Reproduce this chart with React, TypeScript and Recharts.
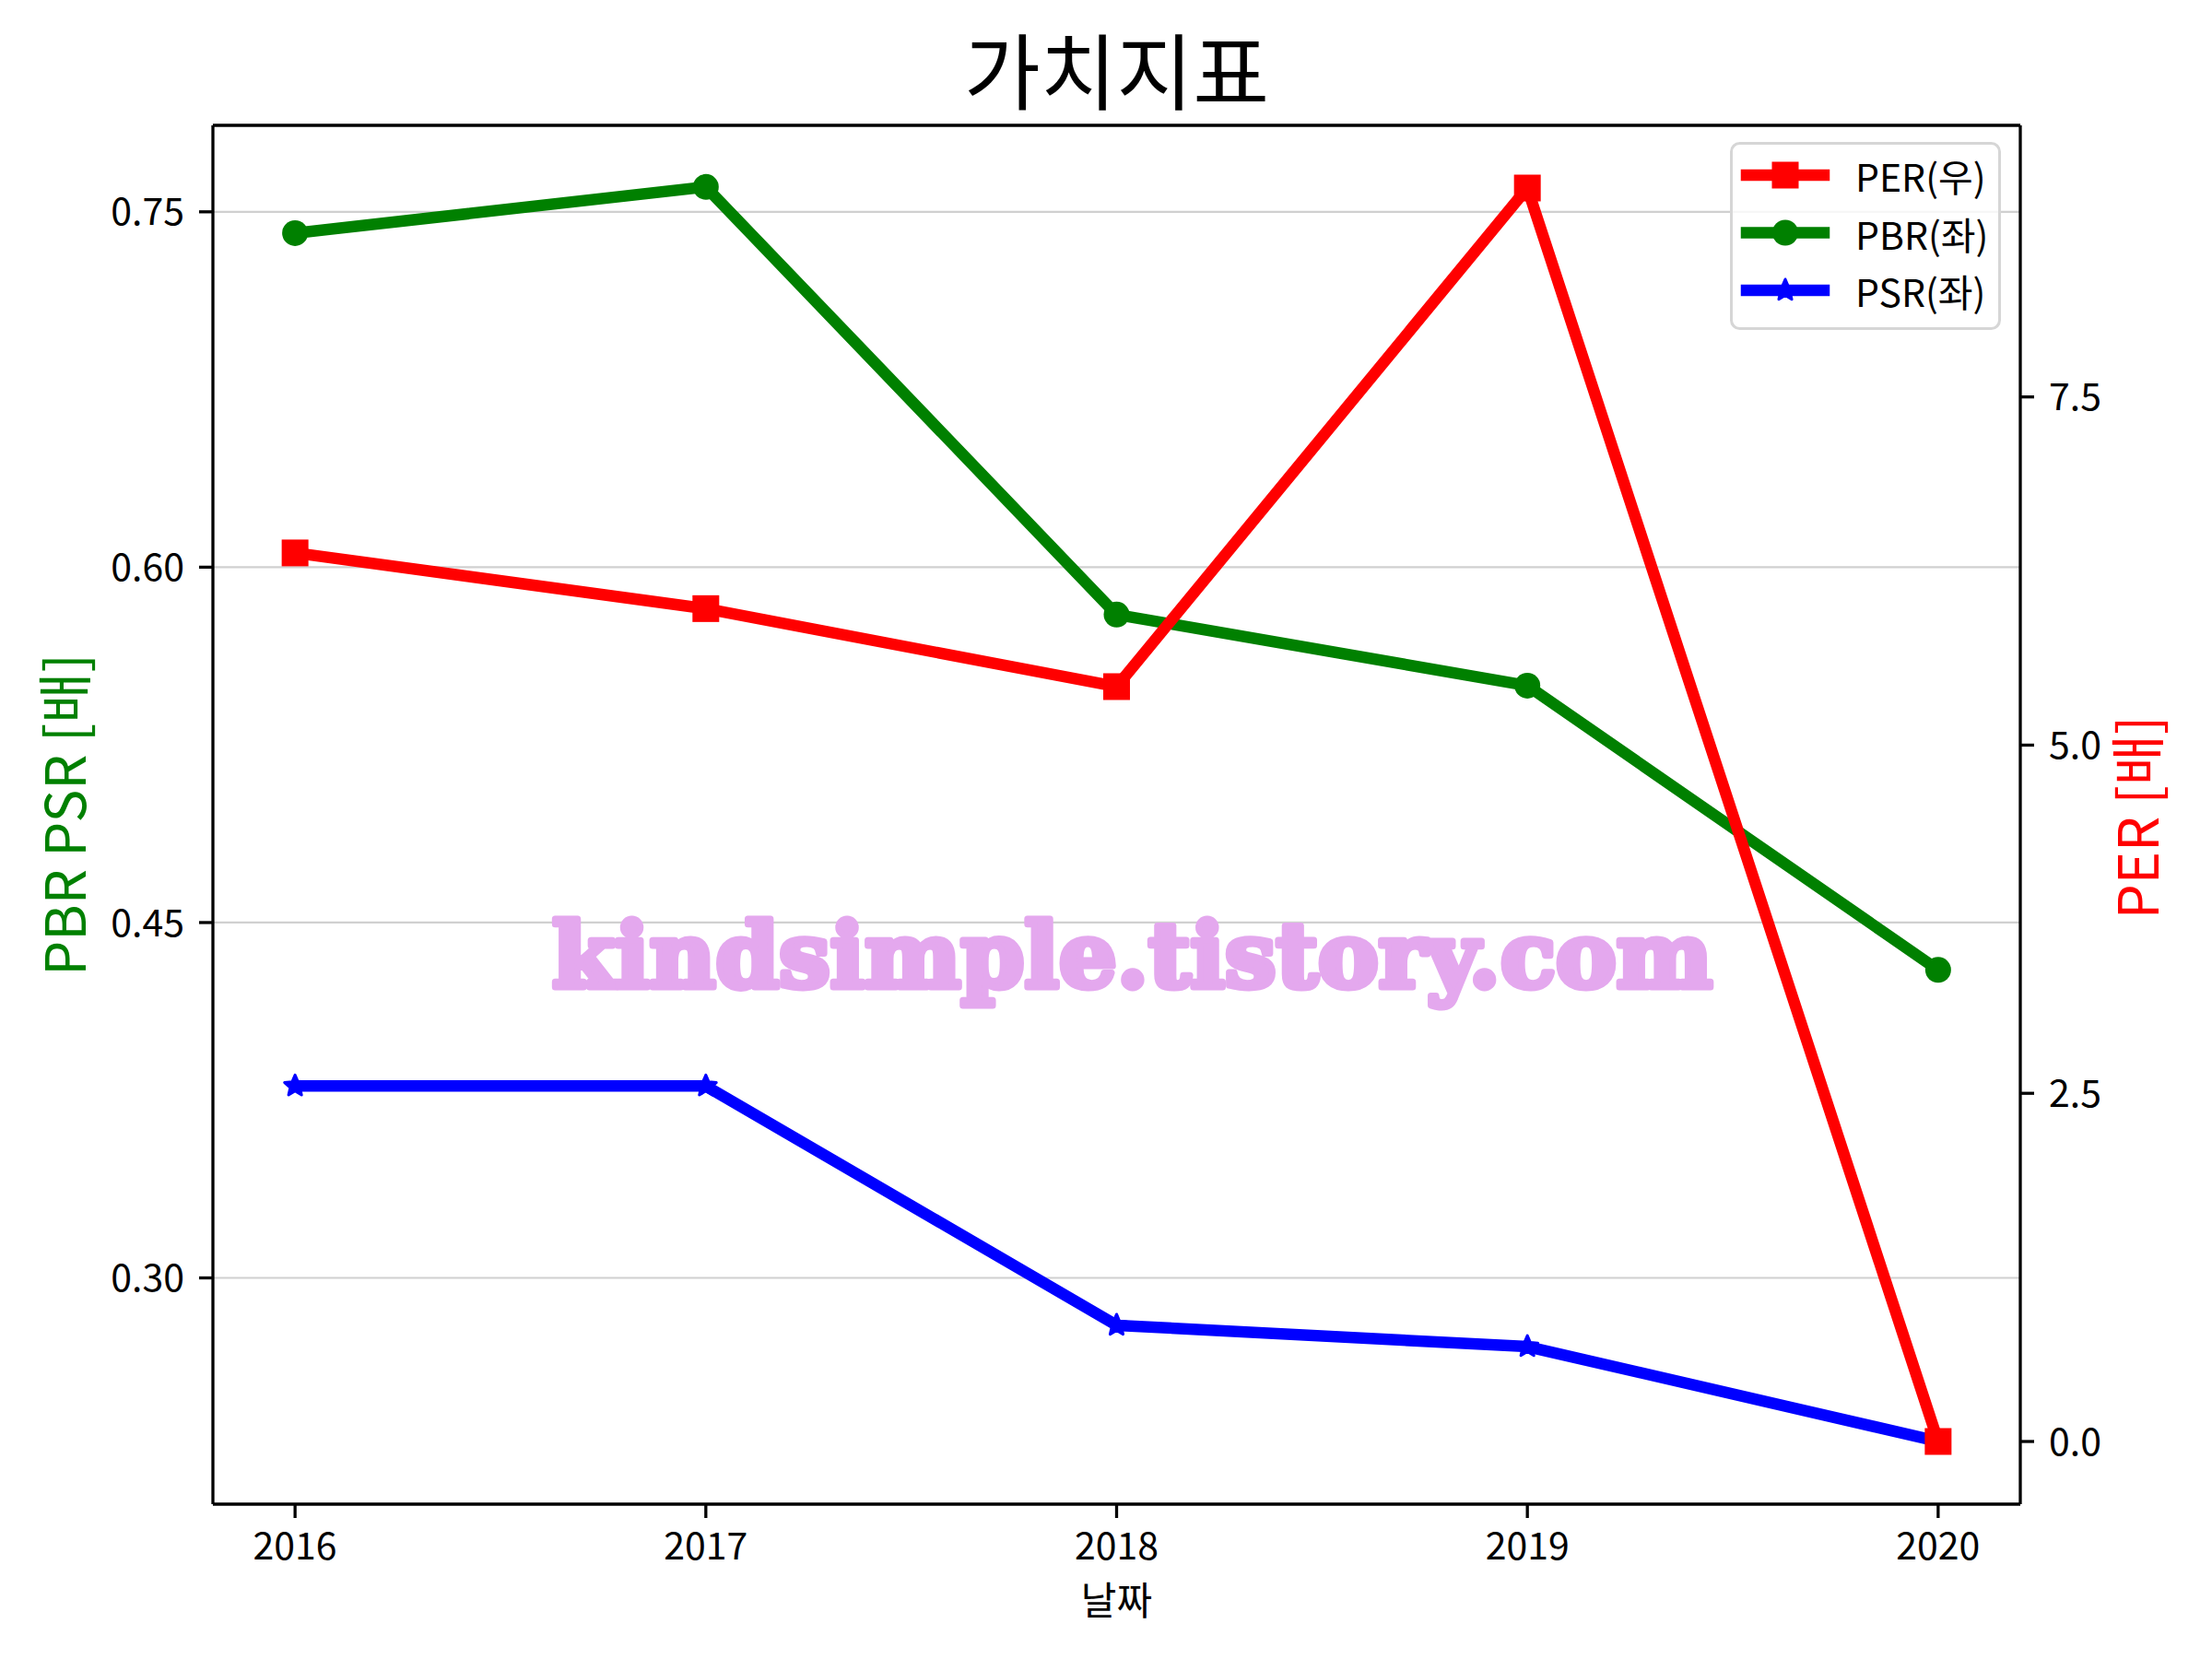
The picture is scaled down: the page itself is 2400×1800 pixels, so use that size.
import React from 'react';
import { LineChart, Line, XAxis, YAxis, CartesianGrid, Legend, ReferenceLine } from 'recharts';

const years = [2016, 2017, 2018, 2019, 2020];
const perValues = [6.38, 5.98, 5.42, 9.0, 0.0];
const pbrValues = [0.741, 0.7605, 0.58, 0.55, 0.43];
const psrValues = [0.381, 0.381, 0.28, 0.271, 0.231];

const leftTicks = [0.3, 0.45, 0.6, 0.75];
const rightTicks = [0, 2.5, 5.0, 7.5];
const leftDomain = [0.2045, 0.7865];
const rightDomain = [-0.45, 9.45];
const xDomain = [2015.8, 2020.2];

const titleText = '가치지표';
const xLabelText = '날짜';
const leftLabelText = 'PBR PSR [배]';
const rightLabelText = 'PER [배]';
const watermarkText = 'kindsimple.tistory.com';

const seriesNames = { per: 'PER(우)', pbr: 'PBR(좌)', psr: 'PSR(좌)' };

const data = years.map((y, i) => ({ year: y, per: perValues[i], pbr: pbrValues[i], psr: psrValues[i] }));

const FONT = '"Noto Sans CJK KR", "Noto Sans", sans-serif';
const RED = '#ff0000';
const GREEN = '#008000';
const BLUE = '#0000ff';
const LW = 12.5;

function starPoints(cx: number, cy: number, R: number, r: number) {
  const pts: string[] = [];
  for (let i = 0; i < 10; i++) {
    const rad = i % 2 === 0 ? R : r;
    const a = -Math.PI / 2 + (i * Math.PI) / 5;
    pts.push(`${cx + rad * Math.cos(a)},${cy + rad * Math.sin(a)}`);
  }
  return pts.join(' ');
}

const SquareDot = (props: any) => {
  const { cx, cy, index } = props;
  if (cx == null || cy == null) return <g key={`s${index}`} />;
  return <rect key={`s${index}`} x={cx - 14.5} y={cy - 14.5} width={29} height={29} fill={RED} />;
};
const CircleDot = (props: any) => {
  const { cx, cy, index } = props;
  if (cx == null || cy == null) return <g key={`c${index}`} />;
  return <circle key={`c${index}`} cx={cx} cy={cy} r={14} fill={GREEN} />;
};
const StarDot = (props: any) => {
  const { cx, cy, index } = props;
  if (cx == null || cy == null) return <g key={`t${index}`} />;
  return (
    <polygon
      key={`t${index}`}
      points={starPoints(cx, cy, 12, 5.5)}
      fill={BLUE}
      stroke={BLUE}
      strokeWidth={3}
      strokeLinejoin="round"
    />
  );
};

const LegendBox = () => {
  const rows = [
    { name: seriesNames.per, color: RED, kind: 'square' },
    { name: seriesNames.pbr, color: GREEN, kind: 'circle' },
    { name: seriesNames.psr, color: BLUE, kind: 'star' },
  ];
  return (
    <svg width={296} height={206} style={{ display: 'block' }}>
      <rect x={1.5} y={1.5} width={291} height={201} rx={9} ry={9} fill="rgba(255,255,255,0.8)" stroke="#d6d6d6" strokeWidth={3} />
      {rows.map((r, i) => {
        const cy = 36 + i * 62.5;
        return (
          <g key={r.name}>
            <line x1={18} x2={102} y1={cy} y2={cy} stroke={r.color} strokeWidth={LW} strokeLinecap="square" />
            {r.kind === 'square' && <rect x={60 - 14.5} y={cy - 14.5} width={29} height={29} fill={r.color} />}
            {r.kind === 'circle' && <circle cx={60} cy={cy} r={14} fill={r.color} />}
            {r.kind === 'star' && (
              <polygon points={starPoints(60, cy, 12, 5.5)} fill={r.color} stroke={r.color} strokeWidth={3} strokeLinejoin="round" />
            )}
            <text x={136} y={cy} dominantBaseline="central" fontFamily={FONT} fontSize={41} fill="#000">
              {r.name}
            </text>
          </g>
        );
      })}
    </svg>
  );
};

export default function App() {
  const tickStyle = { fontSize: 41, fill: '#000', fontFamily: FONT };
  return (
    <div style={{ position: 'absolute', left: 0, top: 0, width: 2400, height: 1800, background: '#fff' }}>
      <LineChart width={2400} height={1800} data={data} margin={{ top: 136, right: 0, bottom: 0, left: 0 }}>
        <CartesianGrid yAxisId="left" vertical={false} stroke="#d0d0d0" strokeWidth={2.2} />
        <XAxis
          dataKey="year"
          type="number"
          domain={xDomain}
          ticks={years}
          allowDataOverflow
          height={168}
          tickSize={15}
          tickMargin={16}
          tick={tickStyle}
          axisLine={{ stroke: '#000', strokeWidth: 3.3 }}
          tickLine={{ stroke: '#000', strokeWidth: 3.3 }}
        />
        <YAxis
          yAxisId="left"
          orientation="left"
          type="number"
          domain={leftDomain}
          ticks={leftTicks}
          allowDataOverflow
          width={231}
          tickSize={15}
          tickMargin={16}
          tick={tickStyle}
          tickFormatter={(v: number) => v.toFixed(2)}
          axisLine={{ stroke: '#000', strokeWidth: 3.3 }}
          tickLine={{ stroke: '#000', strokeWidth: 3.3 }}
        />
        <YAxis
          yAxisId="right"
          orientation="right"
          type="number"
          domain={rightDomain}
          ticks={rightTicks}
          allowDataOverflow
          width={208}
          tickSize={15}
          tickMargin={16}
          tick={tickStyle}
          tickFormatter={(v: number) => v.toFixed(1)}
          axisLine={{ stroke: '#000', strokeWidth: 3.3 }}
          tickLine={{ stroke: '#000', strokeWidth: 3.3 }}
        />
        <ReferenceLine yAxisId="left" y={leftDomain[1]} stroke="#000" strokeWidth={3.3} ifOverflow="extendDomain" />
        <Legend
          layout="horizontal"
          verticalAlign="middle"
          align="center"
          content={() => <LegendBox />}
          wrapperStyle={{ position: 'absolute', left: 1877, top: 154, width: 296, height: 206, margin: 0, padding: 0 }}
        />
        <Line
          yAxisId="left"
          dataKey="pbr"
          name={seriesNames.pbr}
          stroke={GREEN}
          strokeWidth={LW}
          strokeLinejoin="round"
          dot={CircleDot}
          activeDot={false}
          isAnimationActive={false}
        />
        <Line
          yAxisId="left"
          dataKey="psr"
          name={seriesNames.psr}
          stroke={BLUE}
          strokeWidth={LW}
          strokeLinejoin="round"
          dot={StarDot}
          activeDot={false}
          isAnimationActive={false}
        />
        <Line
          yAxisId="right"
          dataKey="per"
          name={seriesNames.per}
          stroke={RED}
          strokeWidth={LW}
          strokeLinejoin="round"
          dot={SquareDot}
          activeDot={false}
          isAnimationActive={false}
        />
      </LineChart>
      <svg width={2400} height={1800} style={{ position: 'absolute', left: 0, top: 0, pointerEvents: 'none' }}>
        <text x={1211.5} y={73} textAnchor="middle" dominantBaseline="central" fontFamily={FONT} fontSize={90} fill="#000">
          {titleText}
        </text>
        <text x={1211.5} y={1733} textAnchor="middle" dominantBaseline="central" fontFamily={FONT} fontSize={42} fill="#000">
          {xLabelText}
        </text>
        <text
          x={66}
          y={884}
          textAnchor="middle"
          dominantBaseline="central"
          fontFamily={FONT}
          fontSize={60}
          fill={GREEN}
          transform="rotate(-90 66 884)"
        >
          {leftLabelText}
        </text>
        <text
          x={2315}
          y={887}
          textAnchor="middle"
          dominantBaseline="central"
          fontFamily={FONT}
          fontSize={60}
          fill={RED}
          transform="rotate(-90 2315 887)"
        >
          {rightLabelText}
        </text>
        <text
          x={599}
          y={1071}
          fontFamily='"DejaVu Serif", serif'
          fontWeight="bold"
          fontSize={98}
          fill="#e4a8ee"
          stroke="#e4a8ee"
          strokeWidth={7}
          strokeLinejoin="round"
          textLength={1259}
          lengthAdjust="spacingAndGlyphs"
        >
          {watermarkText}
        </text>
      </svg>
    </div>
  );
}
